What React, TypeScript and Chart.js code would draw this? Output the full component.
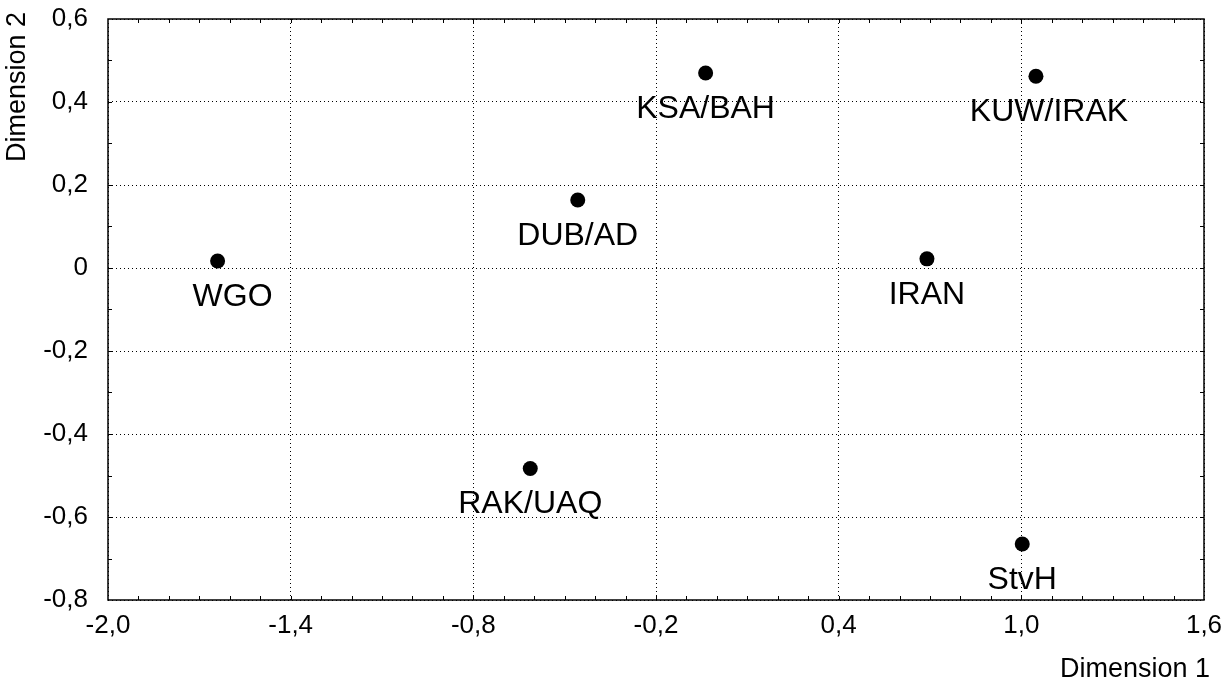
import React, { useEffect, useRef } from "react";
import { Chart, registerables } from "chart.js";

Chart.register(...registerables);

const pointLabels = ["WGO", "DUB/AD", "KSA/BAH", "KUW/IRAK", "IRAN", "RAK/UAQ", "StvH"];
const dim1Values = [-1.64, -0.457, -0.037, 1.048, 0.69, -0.613, 1.003];
const dim2Values = [0.017, 0.164, 0.47, 0.462, 0.022, -0.483, -0.665];
const labelDx = [15, 0, 0, 13, 0, 0, 0];

const xMin = -2.0;
const xMax = 1.6;
const xStep = 0.6;
const yMin = -0.8;
const yMax = 0.6;
const yStep = 0.2;
const minorStep = 0.1;

const xTitle = "Dimension 1";
const yTitle = "Dimension 2";

const FONT = "'Liberation Sans', Arial, Helvetica, sans-serif";

function fmt(v: number): string {
  if (Math.abs(v) < 1e-9) return "0";
  return v.toFixed(1).replace(".", ",");
}

const decorPlugin = {
  id: "decor",
  afterDatasetsDraw(chart: any) {
    const { ctx, chartArea, scales } = chart;
    const { left, right, top, bottom } = chartArea;
    ctx.save();
    ctx.strokeStyle = "#000";
    ctx.lineWidth = 1;
    ctx.setLineDash([]);
    const tl = 4;
    ctx.beginPath();
    const nx = Math.round((xMax - xMin) / minorStep);
    for (let i = 1; i < nx; i++) {
      const px = Math.round(scales.x.getPixelForValue(xMin + i * minorStep)) + 0.5;
      ctx.moveTo(px, bottom);
      ctx.lineTo(px, bottom - tl);
      ctx.moveTo(px, top);
      ctx.lineTo(px, top + tl);
    }
    const ny = Math.round((yMax - yMin) / minorStep);
    for (let i = 1; i < ny; i++) {
      const py = Math.round(scales.y.getPixelForValue(yMin + i * minorStep)) + 0.5;
      ctx.moveTo(left, py);
      ctx.lineTo(left + tl, py);
      ctx.moveTo(right, py);
      ctx.lineTo(right - tl, py);
    }
    ctx.stroke();
    ctx.lineWidth = 1.5;
    ctx.strokeRect(left, top, right - left, bottom - top);

    const meta = chart.getDatasetMeta(0);
    ctx.fillStyle = "#000";
    ctx.font = `32px ${FONT}`;
    ctx.textAlign = "center";
    ctx.textBaseline = "alphabetic";
    meta.data.forEach((pt: any, i: number) => {
      ctx.fillText(pointLabels[i], pt.x + labelDx[i], pt.y + 45);
    });

    ctx.font = `27px ${FONT}`;
    ctx.textAlign = "right";
    ctx.fillText(xTitle, 1210, 677);
    ctx.save();
    ctx.translate(25, 162);
    ctx.rotate(-Math.PI / 2);
    ctx.textAlign = "left";
    ctx.fillText(yTitle, 0, 0);
    ctx.restore();
    ctx.restore();
  },
};

export default function App() {
  const canvasRef = useRef<HTMLCanvasElement | null>(null);

  useEffect(() => {
    document.body.style.margin = "0";
    const canvas = canvasRef.current;
    if (!canvas) return;
    const points = dim1Values.map((x, i) => ({ x, y: dim2Values[i] }));
    const chart = new Chart(canvas, {
      type: "scatter",
      data: {
        datasets: [
          {
            data: points,
            backgroundColor: "#000",
            borderColor: "#000",
            borderWidth: 0,
            pointRadius: 7.5,
            pointHoverRadius: 7.5,
          },
        ],
      },
      options: {
        responsive: false,
        animation: false,
        devicePixelRatio: 1,
        layout: { padding: { top: 19, right: 26, left: 0, bottom: 0 } },
        plugins: {
          legend: { display: false },
          tooltip: { enabled: false },
          title: { display: false },
        },
        scales: {
          x: {
            type: "linear",
            position: "bottom",
            min: xMin,
            max: xMax,
            afterFit: (scale: any) => {
              scale.height = 82;
              scale.paddingLeft = 0;
              scale.paddingRight = 0;
            },
            ticks: {
              stepSize: xStep,
              color: "#000",
              padding: 10,
              font: { family: FONT, size: 26 },
              callback: (v: any) => fmt(Number(v)),
              maxRotation: 0,
              autoSkip: false,
            },
            grid: { color: "#000", lineWidth: 1, drawTicks: false },
            border: { display: false, dash: [1, 3] },
          },
          y: {
            type: "linear",
            position: "left",
            min: yMin,
            max: yMax,
            afterFit: (scale: any) => {
              scale.width = 108;
              scale.paddingTop = 0;
              scale.paddingBottom = 0;
            },
            ticks: {
              stepSize: yStep,
              color: "#000",
              padding: 20,
              font: { family: FONT, size: 26 },
              callback: (v: any) => fmt(Number(v)),
              autoSkip: false,
            },
            grid: { color: "#000", lineWidth: 1, drawTicks: false },
            border: { display: false, dash: [1, 3] },
          },
        },
      },
      plugins: [decorPlugin],
    });
    return () => chart.destroy();
  }, []);

  return (
    <div style={{ width: 1230, height: 682, background: "#fff" }}>
      <canvas ref={canvasRef} width={1230} height={682} style={{ display: "block" }} />
    </div>
  );
}
